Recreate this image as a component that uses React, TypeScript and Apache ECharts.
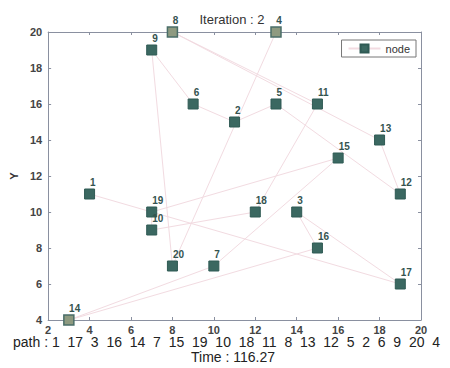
import React, { useEffect, useRef } from "react";
import * as echarts from "echarts";

const nodeIds = [1, 2, 3, 4, 5, 6, 7, 8, 9, 10, 11, 12, 13, 14, 15, 16, 17, 18, 19, 20];
const nodeX = [4, 11, 14, 13, 13, 9, 10, 8, 7, 7, 15, 19, 18, 3, 16, 15, 19, 12, 7, 8];
const nodeY = [11, 15, 10, 20, 16, 16, 7, 20, 19, 9, 16, 11, 14, 4, 13, 8, 6, 10, 10, 7];
const path = [1, 17, 3, 16, 14, 7, 15, 19, 10, 18, 11, 8, 13, 12, 5, 2, 6, 9, 20, 4];
const dimNodes = [8, 4, 14];
const xTicks = { min: 2, max: 20, interval: 2 };
const yTicks = { min: 4, max: 20, interval: 2 };
const iteration = 2;
const timeValue = "116.27";

const FONT = "Liberation Sans, Arial, sans-serif";

export default function App() {
  const ref = useRef<HTMLDivElement>(null);
  useEffect(() => {
    if (!ref.current) return;
    const chart = echarts.init(ref.current, undefined, { renderer: "svg" });
    const data = path.map((id) => {
      const i = nodeIds.indexOf(id);
      const dim = dimNodes.includes(id);
      return {
        value: [nodeX[i], nodeY[i], id],
        itemStyle: dim
          ? { color: "#8e9a80", borderColor: "#4a6e68", borderWidth: 1.5 }
          : undefined,
      };
    });
    const axisLine = { show: true, lineStyle: { color: "#8a90a0", width: 1 } };
    const axisTick = { show: true, inside: true, length: 3, lineStyle: { color: "#8a90a0" } };
    const axisLabel = { color: "#444", fontSize: 11, fontWeight: "bold" as const, fontFamily: FONT };
    const gap = " \u00a0";
    chart.setOption({
      animation: false,
      backgroundColor: "#fff",
      grid: { left: 44, right: 29, top: 32, bottom: 48, containLabel: false },
      legend: {
        right: 34,
        top: 40,
        orient: "vertical",
        borderColor: "#777",
        borderWidth: 1,
        padding: [3, 6, 3, 6],
        itemWidth: 32,
        itemHeight: 10,
        itemGap: 4,
        textStyle: { fontSize: 11, color: "#333", fontFamily: FONT },
        data: ["node"],
      },
      xAxis: [
        {
          type: "value",
          ...xTicks,
          axisLine,
          axisTick,
          axisLabel: { ...axisLabel, margin: 4 },
          splitLine: { show: false },
        },
        {
          type: "value",
          position: "top",
          ...xTicks,
          axisLine,
          axisTick,
          axisLabel: { show: false },
          splitLine: { show: false },
        },
      ],
      yAxis: [
        {
          type: "value",
          ...yTicks,
          name: "Y",
          nameLocation: "middle",
          nameGap: 24,
          nameTextStyle: { color: "#333", fontSize: 11, fontWeight: "bold", fontFamily: FONT },
          axisLine,
          axisTick,
          axisLabel: { ...axisLabel, margin: 6 },
          splitLine: { show: false },
        },
        {
          type: "value",
          position: "right",
          ...yTicks,
          axisLine,
          axisTick,
          axisLabel: { show: false },
          splitLine: { show: false },
        },
      ],
      series: [
        {
          name: "node",
          type: "line",
          data,
          symbol: "rect",
          symbolSize: 10,
          clip: false,
          itemStyle: { color: "#3b6861", borderColor: "#2f5a54", borderWidth: 1 },
          lineStyle: { color: "#f2dbe1", width: 1 },
          label: {
            show: true,
            position: [6, -6],
            align: "left",
            verticalAlign: "middle",
            color: "#35534f",
            fontSize: 10,
            fontWeight: "bold",
            fontFamily: FONT,
            formatter: (p: any) => String(p.value[2]),
          },
          z: 3,
        },
      ],
      graphic: [
        {
          type: "text",
          x: 232,
          y: 19,
          style: {
            text: `Iteration : ${iteration}`,
            fill: "#333",
            font: `13px ${FONT}`,
            textAlign: "center",
            textVerticalAlign: "middle",
          },
        },
        {
          type: "text",
          x: 13,
          y: 342,
          style: {
            text: "path : " + path.join(gap),
            fill: "#222",
            font: `14px ${FONT}`,
            textAlign: "left",
            textVerticalAlign: "middle",
          },
        },
        {
          type: "text",
          x: 233,
          y: 357,
          style: {
            text: `Time : ${timeValue}`,
            fill: "#222",
            font: `14px ${FONT}`,
            textAlign: "center",
            textVerticalAlign: "middle",
          },
        },
      ],
    });
    return () => chart.dispose();
  }, []);
  return (
    <div
      ref={ref}
      style={{ position: "absolute", left: 0, top: 0, width: 450, height: 368 }}
    />
  );
}
